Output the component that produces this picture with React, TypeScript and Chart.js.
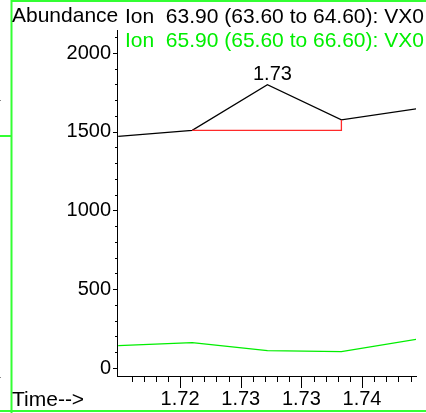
import React, { useEffect, useRef } from 'react';
import { Chart, registerables } from 'chart.js';

Chart.register(...registerables);

// ---- data ----
const times = [1.7149, 1.721, 1.7272, 1.7333, 1.7395];
const ion639 = [1470, 1509, 1799, 1575, 1646];
const ion659 = [142, 161, 110, 104, 182];
const baselineTimes = [1.721, 1.7333, 1.7333];
const baselineValues = [1509, 1509, 1575];
const yTickValues = [0, 500, 1000, 1500, 2000];
const xTickValues = [1.72, 1.725, 1.73, 1.735];
const xTickLabels = ['1.72', '1.73', '1.73', '1.74'];
const ionLabels = [
  'Ion  63.90 (63.60 to 64.60): VX0',
  'Ion  65.90 (65.60 to 66.60): VX0',
];
const yAxisTitle = 'Abundance';
const xAxisTitle = 'Time-->';

const FONT = "'Liberation Sans', Arial, sans-serif";
const GREEN = '#00ee00';
const FRAME = '#33ff33';

const decor = {
  id: 'decor',
  beforeDraw(chart: any) {
    const ctx = chart.ctx;
    const W = chart.width;
    const H = chart.height;
    ctx.save();
    ctx.strokeStyle = FRAME;
    ctx.lineWidth = 2;
    ctx.beginPath();
    ctx.moveTo(11.5, 0);
    ctx.lineTo(11.5, H);
    ctx.moveTo(11, 1);
    ctx.lineTo(W, 1);
    ctx.moveTo(0, H - 2);
    ctx.lineTo(W, H - 2);
    ctx.moveTo(0, 136);
    ctx.lineTo(11, 136);
    ctx.stroke();
    ctx.fillStyle = '#888';
    ctx.fillRect(0, 100, 1, 1);
    ctx.fillRect(0, 377, 1, 1);
    ctx.restore();
  },
  afterDraw(chart: any) {
    const ctx = chart.ctx;
    const xs = chart.scales.x;
    const ys = chart.scales.y;
    const area = chart.chartArea;
    ctx.save();
    ctx.strokeStyle = '#000';
    ctx.lineWidth = 1;
    ctx.beginPath();
    // y ticks: minor every 100, major every 500
    for (let v = 0; v <= ys.max; v += 100) {
      const py = Math.round(ys.getPixelForValue(v)) + 0.5;
      const len = v % 500 === 0 ? 4 : 2;
      ctx.moveTo(area.left - len, py);
      ctx.lineTo(area.left, py);
    }
    // x ticks: minor every 0.001, major every 0.005
    for (let k = 1716; k <= 1739; k++) {
      const px = Math.round(xs.getPixelForValue(k / 1000)) + 0.5;
      const len = k % 5 === 0 ? 12 : 6;
      ctx.moveTo(px, area.bottom);
      ctx.lineTo(px, area.bottom + len);
    }
    ctx.stroke();

    ctx.font = `21px ${FONT}`;
    ctx.textBaseline = 'alphabetic';
    ctx.textAlign = 'left';
    ctx.fillStyle = '#000';
    ctx.fillText(yAxisTitle, 12, 22);
    ctx.fillText(ionLabels[0], 125, 23);
    ctx.fillText(xAxisTitle, 12, 406);
    ctx.fillStyle = GREEN;
    ctx.fillText(ionLabels[1], 125, 47);

    // peak label
    let mi = 0;
    ion639.forEach((v, i) => {
      if (v > ion639[mi]) mi = i;
    });
    const px = xs.getPixelForValue(times[mi]);
    const py = ys.getPixelForValue(ion639[mi]);
    ctx.font = `20px ${FONT}`;
    ctx.fillStyle = '#000';
    ctx.textAlign = 'center';
    ctx.fillText(times[mi].toFixed(2), px + 5, py - 5);
    ctx.restore();
  },
};

export default function App() {
  const ref = useRef<HTMLCanvasElement>(null);
  useEffect(() => {
    if (!ref.current) return;
    const chart = new Chart(ref.current, {
      type: 'line',
      data: {
        datasets: [
          {
            data: baselineTimes.map((t, i) => ({ x: t, y: baselineValues[i] })),
            borderColor: '#ff2a2a',
            borderWidth: 1.3,
            pointRadius: 0,
            tension: 0,
          },
          {
            data: times.map((t, i) => ({ x: t, y: ion639[i] })),
            borderColor: '#000',
            borderWidth: 1.3,
            pointRadius: 0,
            tension: 0,
          },
          {
            data: times.map((t, i) => ({ x: t, y: ion659[i] })),
            borderColor: GREEN,
            borderWidth: 1.3,
            pointRadius: 0,
            tension: 0,
          },
        ],
      },
      options: {
        responsive: false,
        animation: false,
        layout: { padding: { top: 30, right: 10, left: 0, bottom: 0 } },
        plugins: { legend: { display: false }, tooltip: { enabled: false } },
        scales: {
          x: {
            type: 'linear',
            min: 1.7148,
            max: 1.73945,
            grid: { display: false, drawTicks: false },
            border: { display: true, color: '#000', width: 1 },
            afterBuildTicks: (s: any) => {
              s.ticks = xTickValues.map((v) => ({ value: v }));
            },
            afterFit: (s: any) => {
              s.height = 37;
            },
            ticks: {
              callback: (_v: any, i: number) => xTickLabels[i],
              font: { family: FONT, size: 20 },
              color: '#000',
              padding: 11,
              maxRotation: 0,
              autoSkip: false,
            },
          },
          y: {
            type: 'linear',
            min: -50.8,
            max: 2146,
            grid: { display: false, drawTicks: false },
            border: { display: true, color: '#000', width: 1 },
            afterBuildTicks: (s: any) => {
              s.ticks = yTickValues.map((v) => ({ value: v }));
            },
            afterFit: (s: any) => {
              s.width = 117;
            },
            ticks: {
              callback: (v: any) => String(v),
              font: { family: FONT, size: 20 },
              color: '#000',
              padding: 6,
              autoSkip: false,
            },
          },
        },
      },
      plugins: [decor],
    } as any);
    return () => chart.destroy();
  }, []);
  return (
    <div style={{ position: 'fixed', left: 0, top: 0, width: 426, height: 413, background: '#fff' }}>
      <canvas ref={ref} width={426} height={413} style={{ display: 'block' }} />
    </div>
  );
}
